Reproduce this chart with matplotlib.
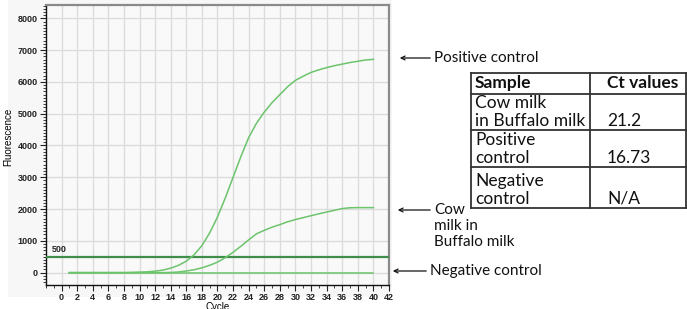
import matplotlib
matplotlib.use("Agg")
import matplotlib.pyplot as plt
from matplotlib.ticker import MultipleLocator, FixedLocator
from matplotlib.patches import Rectangle

# qPCR amplification data
cycles = list(range(1, 41))
positive_control = [0, 0, 0, 0, 0, 0, 0, 0, 5, 15,
                    25, 45, 80, 140, 230, 360, 560, 850, 1250, 1750,
                    2350, 3000, 3650, 4250, 4700, 5050, 5350, 5600, 5850, 6050,
                    6180, 6300, 6380, 6450, 6510, 6560, 6610, 6650, 6690, 6710]
cow_in_buffalo = [0, 0, 0, 0, 0, 0, 0, 0, 0, 0,
                  0, 0, 0, 5, 20, 50, 90, 150, 230, 330,
                  470, 640, 830, 1030, 1220, 1330, 1430, 1510, 1600, 1670,
                  1730, 1790, 1850, 1905, 1960, 2015, 2040, 2045, 2045, 2045]
negative_control = [0] * 40
threshold = 500
x_ticks = list(range(0, 43, 2))

# Ct table
table_header = ["Sample", "Ct values"]
table_samples = [["Cow milk", "in Buffalo milk"], ["Positive", "control"], ["Negative", "control"]]
table_ct = ["21.2", "16.73", "N/A"]

W, H = 687, 309


def px(x, y):
    # pixel position -> figure fraction
    return x / W, 1 - y / H


fig = plt.figure(figsize=(W / 100, H / 100), dpi=100)
fig.patch.set_facecolor("white")
fig.patches.append(Rectangle(px(8, 297), 384 / W, 297 / H, transform=fig.transFigure,
                             facecolor="#f7f7f7", edgecolor="none", zorder=-10))

ax = fig.add_axes([46 / W, 1 - 285 / H, (389 - 46) / W, (285 - 5) / H])
ax.set_facecolor("#f9f9f9")

curve_color = "#6cc46c"
ax.axhline(threshold, color="#3f8f4a", lw=1.6, zorder=3)
ax.plot(cycles, negative_control, color=curve_color, lw=1.1, zorder=4)
ax.plot(cycles, cow_in_buffalo, color=curve_color, lw=1.1, zorder=4)
ax.plot(cycles, positive_control, color=curve_color, lw=1.1, zorder=4)
ax.text(-1.3, 720, str(threshold), fontsize=6.5, fontweight="bold", color="#222222",
        family="Liberation Sans", va="center", ha="left")

ax.set_xlim(-2, 42)
ax.set_ylim(-390, 8420)
ax.xaxis.set_major_locator(FixedLocator(x_ticks))
ax.xaxis.set_minor_locator(MultipleLocator(1))
ax.yaxis.set_major_locator(MultipleLocator(1000))
ax.yaxis.set_minor_locator(MultipleLocator(100))
ax.grid(True, which="major", color="#dcdcdc", lw=1.0, zorder=0)
ax.set_axisbelow(True)

for lab in ax.get_xticklabels() + ax.get_yticklabels():
    lab.set_fontfamily("Liberation Sans")
    lab.set_fontweight("bold")
ax.tick_params(which="major", length=4, width=0.8, labelsize=6.5, pad=2, colors="#222222")
ax.tick_params(which="minor", length=2, width=0.6, colors="#222222")

for side in ["top", "right"]:
    ax.spines[side].set_color("#8a8a8a")
    ax.spines[side].set_linewidth(1.6)
for side in ["left", "bottom"]:
    ax.spines[side].set_color("#111111")
    ax.spines[side].set_linewidth(1.0)

ax.set_ylabel("Fluorescence", fontsize=7, family="Liberation Sans")
ax.yaxis.set_label_coords(-0.095, 0.53)
ax.set_xlabel("Cycle", fontsize=7, family="Liberation Sans", va="top")
ax.xaxis.set_label_coords(0.5, -0.06)

# arrows + labels on the right of the plot
note_font = dict(family="Lato", fontsize=11, color="#111111")
arrow_kw = dict(arrowstyle="->", lw=0.9, color="#111111", mutation_scale=7)
annotations = [
    (["Positive control"], 58, 397, 434),
    (["Cow", "milk in", "Buffalo milk"], 210, 395, 434),
    (["Negative control"], 271, 390, 430),
]
for lines, y, x_head, x_text in annotations:
    ax.annotate("", xy=px(x_head, y), xytext=px(x_text - 1, y),
                xycoords="figure fraction", textcoords="figure fraction",
                arrowprops=arrow_kw)
    for k, line in enumerate(lines):
        fig.text(*px(x_text, y + 16 * k), line, va="center", ha="left", **note_font)

# Ct values table, drawn as lines + text
tab_left, tab_mid, tab_right = 471, 590, 686
row_edges = [73, 94, 130, 167, 208]
line_kw = dict(color="#333333", lw=1.3, transform=fig.transFigure)
for y in row_edges:
    fig.add_artist(plt.Line2D([tab_left / W, tab_right / W], [1 - y / H, 1 - y / H], **line_kw))
for x in [tab_left, tab_mid, tab_right]:
    fig.add_artist(plt.Line2D([x / W, x / W], [1 - row_edges[0] / H, 1 - row_edges[-1] / H], **line_kw))

table_font = dict(family="Lato", fontsize=12.5, color="#111111")
fig.text(*px(475, 83), table_header[0], va="center", ha="left", fontweight="bold", **table_font)
fig.text(*px(607, 83), table_header[1], va="center", ha="left", fontweight="bold", **table_font)
for i, (sample, ct) in enumerate(zip(table_samples, table_ct)):
    bottom = row_edges[i + 2]
    fig.text(*px(475, bottom - 27), sample[0], va="center", ha="left", **table_font)
    fig.text(*px(475, bottom - 9), sample[1], va="center", ha="left", **table_font)
    fig.text(*px(607, bottom - 9), ct, va="center", ha="left", **table_font)

fig.savefig("out.png", dpi=100)
